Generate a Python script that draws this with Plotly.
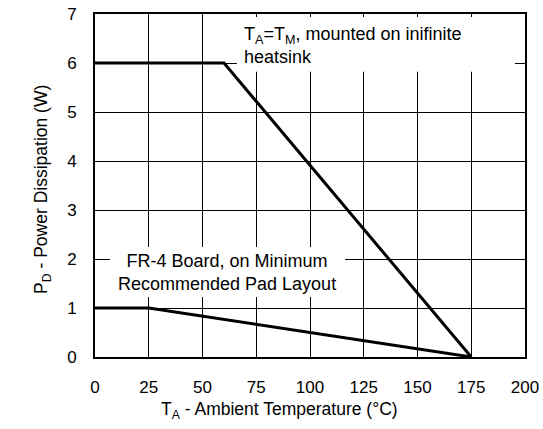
import plotly.graph_objects as go

# Data
temp_inf = [0, 60, 175]
pd_inf = [6, 6, 0]
temp_fr4 = [0, 25, 175]
pd_fr4 = [1, 1, 0]

x_ticks = [0, 25, 50, 75, 100, 125, 150, 175, 200]
y_ticks = [0, 1, 2, 3, 4, 5, 6, 7]

FONT = "Liberation Sans, Arial, sans-serif"
FS = 18

fig = go.Figure()
fig.add_trace(go.Scatter(x=temp_inf, y=pd_inf, mode="lines",
                         line=dict(color="black", width=3), showlegend=False))
fig.add_trace(go.Scatter(x=temp_fr4, y=pd_fr4, mode="lines",
                         line=dict(color="black", width=3), showlegend=False))

# white boxes behind labels (cover gridlines)
fig.add_shape(type="rect", x0=66.0, x1=195.3, y0=5.82, y1=6.94, xref="x", yref="y",
              fillcolor="white", line=dict(width=0), layer="between")
fig.add_shape(type="rect", x0=7.0, x1=116.3, y0=1.224, y1=2.245, xref="x", yref="y",
              fillcolor="white", line=dict(width=0), layer="between")

fig.add_annotation(x=68.5, y=6.36, xref="x", yref="y", xanchor="left", yanchor="middle",
                   align="left", showarrow=False,
                   text="T<sub>A</sub>=T<sub>M</sub>, mounted on inifinite<br>heatsink",
                   font=dict(family=FONT, size=FS, color="black"))
fig.add_annotation(x=61.4, y=1.72, xref="x", yref="y", xanchor="center", yanchor="middle",
                   align="center", showarrow=False,
                   text="FR-4 Board, on Minimum<br>Recommended Pad Layout",
                   font=dict(family=FONT, size=FS, color="black"))

# axis titles as annotations
fig.add_annotation(x=0.43, y=-0.155, xref="paper", yref="paper", xanchor="center",
                   yanchor="middle", showarrow=False,
                   text="T<sub>A</sub> - Ambient Temperature (°C)",
                   font=dict(family=FONT, size=17.5, color="black"))
fig.add_annotation(x=-0.121, y=0.49, xref="paper", yref="paper", xanchor="center",
                   yanchor="middle", showarrow=False, textangle=-90,
                   text="P<sub>D</sub> - Power Dissipation (W)",
                   font=dict(family=FONT, size=17.5, color="black"))

fig.update_xaxes(range=[0, 200], tickvals=x_ticks, showgrid=True, gridcolor="black",
                 gridwidth=1, zeroline=False, showline=True, linecolor="black",
                 linewidth=2, mirror=True, ticks="", ticklabelstandoff=14,
                 automargin=False, ticklabeloverflow="allow",
                 tickfont=dict(family=FONT, size=17, color="black"))
fig.update_yaxes(range=[0, 7], tickvals=y_ticks, showgrid=True, gridcolor="black",
                 gridwidth=1, zeroline=False, showline=True, linecolor="black",
                 linewidth=2, mirror=True, ticks="", ticklabelstandoff=13,
                 automargin=False, ticklabeloverflow="allow",
                 tickfont=dict(family=FONT, size=17, color="black"))

fig.update_layout(width=543, height=429, margin=dict(l=95, r=18, t=14, b=72),
                  plot_bgcolor="white", paper_bgcolor="white",
                  font=dict(family=FONT, color="black"))

# remove the page's default body margin so the figure sits at the window's corner
fig.write_html("out.html", config={"displayModeBar": False},
               post_script="document.body.style.margin='0px';")
